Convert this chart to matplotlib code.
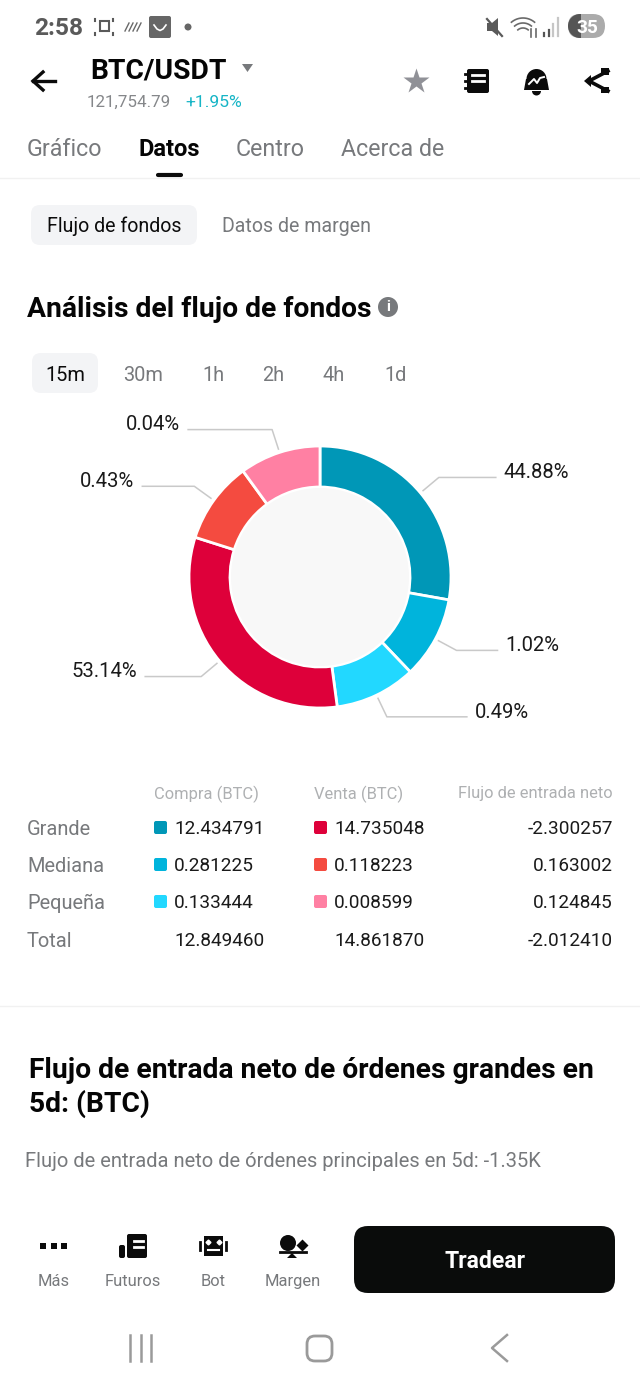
import numpy as np
import matplotlib
matplotlib.use("Agg")
import matplotlib.pyplot as plt
from matplotlib.patches import Circle, FancyBboxPatch, Polygon, Rectangle, Wedge

plt.rcParams['font.family'] = ['Roboto', 'DejaVu Sans']

# Data
pair = "BTC/USDT"
price = "121,754.79"
change = "+1.95%"
tabs = ["Gráfico", "Datos", "Centro", "Acerca de"]
time_frames = ["15m", "30m", "1h", "2h", "4h", "1d"]

# clockwise from 12 o'clock: buy large/medium/small, sell large/medium/small
pct_labels = ["44.88%", "1.02%", "0.49%", "53.14%", "0.43%", "0.04%"]
# the app gives small slices a minimum size, so these are shares as drawn
drawn_shares = [27.8, 10.1, 10.0, 32.0, 10.1, 10.0]
slice_colors = ["#0097B7", "#00B4DC", "#22D8FF", "#DE003A", "#F44B40", "#FF80A3"]
leader_lengths = [57, 41, 80, 56, 52, 84]

row_names = ["Grande", "Mediana", "Pequeña", "Total"]
buy_values = ["12.434791", "0.281225", "0.133444", "12.849460"]
sell_values = ["14.735048", "0.118223", "0.008599", "14.861870"]
net_values = ["-2.300257", "0.163002", "0.124845", "-2.012410"]

toolbar_names = ["Más", "Futuros", "Bot", "Margen"]

W, H = 640, 1387
GRAY = "#77797c"
DARK = "#0b0b0b"

fig = plt.figure(figsize=(W / 100, H / 100), dpi=100, facecolor="white")
ax = fig.add_axes([0, 0, 1, 1])
ax.set_xlim(0, W)
ax.set_ylim(H, 0)
ax.axis("off")


# font size given in screen pixels
def label(x, y, s, px, color=DARK, ha="left", weight="normal"):
    ax.text(x, y - 0.8, s, fontsize=px * 0.72, color=color, ha=ha, va="center_baseline", fontweight=weight, zorder=5)


def round_box(x0, y0, x1, y1, r, color, zorder=1):
    ax.add_patch(FancyBboxPatch((x0 + r, y0 + r), x1 - x0 - 2 * r, y1 - y0 - 2 * r,
                                boxstyle=f"round,pad={r},rounding_size={r}",
                                fc=color, ec="none", zorder=zorder))


# Status bar
label(34, 27, "2:58", 24.5, "#5a5a5a", weight="bold")
ax.add_patch(Rectangle((100, 21), 9, 10, fc="none", ec="#5a5a5a", lw=1.5))
for sx, sy in [(95, 19), (113, 19), (95, 35), (113, 35)]:
    ax.plot([sx, sx], [sy, sy + (2 if sy < 27 else -2)], color="#5a5a5a", lw=1.5)
for i in range(4):
    ax.plot([125 + i * 4, 129 + i * 4], [31, 23], color="#6a6a6a", lw=1)
round_box(149, 16, 171, 38, 2, "#666666")
ax.plot(np.array([154, 157, 160, 163, 166]), [25, 29, 30.5, 29, 25], color="white", lw=1.2)
ax.add_patch(Circle((188, 27), 3.5, fc="#666666", ec="none"))
ax.add_patch(Polygon([[487, 23], [492, 23], [498, 18], [498, 36], [492, 31], [487, 31]], fc="#5a5a5a", ec="none"))
ax.plot([487, 502], [19, 36], color="#5a5a5a", lw=1.6)
for r in [18, 13, 8]:
    t = np.radians(np.linspace(230, 310, 20))
    ax.plot(523 + r * np.cos(t), 36 + r * np.sin(t), color="#6a6a6a", lw=1.2)
ax.plot([531, 531], [29, 37], color="#6a6a6a", lw=1.2)
ax.plot([536, 536], [29, 37], color="#6a6a6a", lw=1.2)
for i, top in enumerate([33, 30, 24, 18]):
    ax.plot([544 + i * 4.5, 544 + i * 4.5], [top, 36], color="#555555" if i < 2 else "#c6c6c6", lw=1.6)
round_box(568, 14, 605, 38, 12, "#ababab")
ax.add_patch(Wedge((580, 26), 12, 90, 270, fc="#555555", ec="none", zorder=2))
ax.add_patch(Rectangle((580, 14), 1, 24, fc="#555555", ec="none", zorder=2))
label(587, 27, "35", 19, "white", ha="center", weight="bold")

# Header
ax.plot([33, 55], [81, 81], color=DARK, lw=2.4)
ax.plot([43, 33, 43], [72, 81, 90], color=DARK, lw=2.4, solid_joinstyle="miter")
label(90, 69, pair, 28.3, "#050505", weight="bold")
ax.add_patch(Polygon([[242, 64], [253, 64], [247.5, 72]], fc="#77797c", ec="none"))
label(87, 102, price, 17, "#85878a")
label(185, 102, change, 17.5, "#17b5c6")

ax.plot([416], [81], marker="*", ms=19, color="#909197", mec="none")
# book
round_box(467, 69, 489, 93, 2, DARK)
for yy in [75, 81]:
    ax.plot([472, 484], [yy, yy], color="white", lw=2)
for yy in [74, 81, 88]:
    ax.plot([465, 469], [yy, yy], color=DARK, lw=2)
# bell
ax.add_patch(Wedge((536.5, 79), 10, 180, 360, fc=DARK, ec="none"))
ax.add_patch(Polygon([[526, 79], [547, 79], [549, 90], [524, 90]], fc=DARK, ec="none"))
ax.add_patch(Wedge((536.5, 91), 4.5, 0, 180, fc=DARK, ec="none"))
ax.plot([529, 534, 537, 540, 544], [84, 79, 83, 78, 77], color="white", lw=1.4)
# share
ax.plot([608, 589, 608], [71, 81, 91], color=DARK, lw=2.6)
ax.add_patch(Polygon([[584, 81], [591, 75], [591, 87]], fc=DARK, ec="none"))
ax.add_patch(Rectangle((601, 68), 8, 7, fc=DARK, ec="none"))
ax.add_patch(Rectangle((601, 87), 8, 6, fc=DARK, ec="none"))

# Tabs
tab_x = [27, 139, 236, 341]
for name, x in zip(tabs, tab_x):
    if name == "Datos":
        label(x, 148, name, 23.7, "#050505", weight="bold")
    else:
        label(x, 148, name, 23.3, GRAY)
ax.plot([158, 181], [175, 175], color=DARK, lw=3, solid_capstyle="round")
ax.plot([0, W], [178, 178], color="#f1f1f1", lw=1)

# Sub tabs
round_box(31, 205, 197, 245, 9, "#f3f4f6")
label(47, 225, "Flujo de fondos", 19.6, DARK)
label(222, 225, "Datos de margen", 19.7, GRAY)

# Section title
label(27, 307, "Análisis del flujo de fondos", 28.3, "#050505", weight="bold")
ax.add_patch(Circle((388, 307), 10, fc="#77797c", ec="none"))
ax.text(388, 307, "i", fontsize=11, color="white", ha="center", va="center", fontweight="bold")

# Time frames
round_box(32, 353, 98, 393, 9, "#f3f4f6")
tf_x = [65, 143, 213, 273, 334, 396]
for i, (tf, x) in enumerate(zip(time_frames, tf_x)):
    label(x, 374, tf, 20, DARK if i == 0 else GRAY, ha="center")

# Donut
cx, cy, R = 320, 577, 131
pie_ax = fig.add_axes([(cx - 150) / W, 1 - (cy + 150) / H, 300 / W, 300 / H])
pie_ax.pie(drawn_shares, colors=slice_colors, startangle=90, counterclock=False, radius=R,
           wedgeprops={"width": R - 90, "edgecolor": "white", "linewidth": 2})
pie_ax.add_patch(Circle((0, 0), 89, fc="#f8f8f8", ec="none"))
pie_ax.set_xlim(-150, 150)
pie_ax.set_ylim(-150, 150)

# Leader lines start at the middle of each slice
edges = np.cumsum([0] + drawn_shares) / sum(drawn_shares) * 360
for i, text in enumerate(pct_labels):
    mid = np.radians((edges[i] + edges[i + 1]) / 2)
    x0, y0 = cx + 134.5 * np.sin(mid), cy - 134.5 * np.cos(mid)
    x1, y1 = cx + 155 * np.sin(mid), cy - 155 * np.cos(mid)
    side = 1 if np.sin(mid) > 0 else -1
    x2 = x1 + side * leader_lengths[i]
    ax.plot([x0, x1, x2], [y0, y1, y1], color="#c9c9c9", lw=1.1)
    label(x2 + side * 8, y1 - 6, text, 20.3, "#1a1a1a", ha="left" if side > 0 else "right")

# Table
label(154, 793, "Compra (BTC)", 16.5, "#aeb0b2")
label(314, 793, "Venta (BTC)", 16.5, "#aeb0b2")
label(613, 793, "Flujo de entrada neto", 16.5, "#aeb0b2", ha="right")
row_y = [828, 865, 902, 940]
for i, name in enumerate(row_names):
    y = row_y[i]
    label(27, y, name, 20, GRAY)
    label(174, y, buy_values[i], 19, "#1a1a1a")
    label(334, y, sell_values[i], 19, "#1a1a1a")
    label(613, y, net_values[i], 19, "#1a1a1a", ha="right")
    if i < 3:
        round_box(154, y - 7, 167, y + 6, 2, slice_colors[i])
        round_box(314, y - 7, 327, y + 6, 2, slice_colors[i + 3])
ax.plot([0, W], [1006, 1006], color="#f1f1f1", lw=1)

# Second section
label(29, 1068, "Flujo de entrada neto de órdenes grandes en", 28.3, "#050505", weight="bold")
label(29, 1102, "5d: (BTC)", 28.3, "#050505", weight="bold")
label(25, 1160, "Flujo de entrada neto de órdenes principales en 5d: -1.35K", 20.1, GRAY)

# Bottom toolbar
toolbar_x = [54, 133, 213, 293]
for name, x in zip(toolbar_names, toolbar_x):
    label(x, 1281, name, 16.5, GRAY, ha="center")
for x in [43, 53.5, 63.5]:
    ax.add_patch(Rectangle((x - 3, 1243), 6, 6, fc=DARK, ec="none"))
# futures
round_box(127, 1234, 147, 1258, 2, DARK)
round_box(119, 1245, 125, 1258, 2, DARK)
for yy in [1241, 1247]:
    ax.plot([134, 143], [yy, yy], color="white", lw=2)
# bot
ax.add_patch(Rectangle((204, 1236), 19, 20, fc=DARK, ec="none"))
ax.plot([200, 200], [1242, 1250], color=DARK, lw=2)
ax.plot([226, 226], [1242, 1250], color=DARK, lw=2)
ax.plot([208, 219], [1250, 1250], color="white", lw=1.5)
ax.plot([208, 219], [1242, 1242], ls="none", marker="D", ms=2.5, color="white")
# margin
ax.add_patch(Circle((288, 1243), 8, fc=DARK, ec="none"))
ax.plot([280, 306], [1252, 1252], color=DARK, lw=2)
ax.add_patch(Polygon([[287, 1258], [297, 1258], [292, 1253]], fc=DARK, ec="none"))
ax.plot([302], [1245], marker="D", ms=6, color=DARK, mec="none")

round_box(354, 1226, 615, 1293, 14, "#0a0c0b")
label(485, 1260, "Tradear", 23, "white", ha="center", weight="bold")

# Navigation bar
for x in [130, 141, 151]:
    ax.plot([x, x], [1335, 1361], color="#9a9a9a", lw=1.8)
ax.add_patch(FancyBboxPatch((315, 1344), 9, 9, boxstyle="round,pad=8,rounding_size=8",
                            fc="none", ec="#9a9a9a", lw=2))
ax.plot([507, 492, 507], [1335, 1348, 1361], color="#9a9a9a", lw=1.8)

fig.savefig("out.png", dpi=100, facecolor="white")
